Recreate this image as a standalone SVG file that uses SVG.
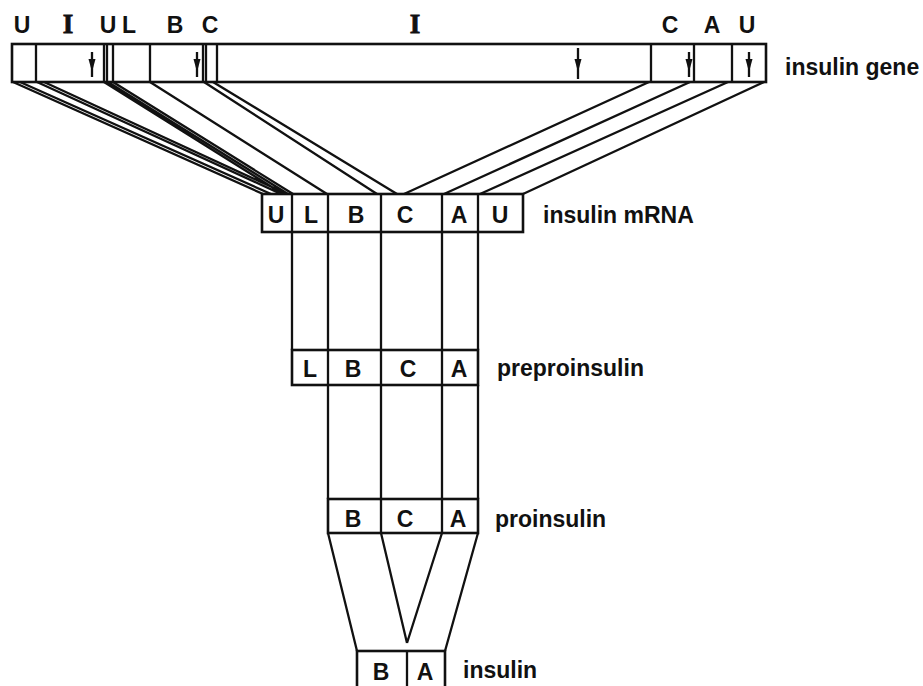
<svg xmlns="http://www.w3.org/2000/svg" width="923" height="686" viewBox="0 0 923 686">
<style>
.box{fill:none;stroke:#111;stroke-width:2.6}
.ln{stroke:#111;stroke-width:2.3;fill:none}
.lb{font-family:"Liberation Sans",Arial,sans-serif;font-weight:bold;font-size:23px;fill:#111;text-anchor:middle}
.lbs{font-family:"Liberation Serif","Times New Roman",serif;font-weight:bold;font-size:27px;fill:#111;text-anchor:middle;stroke:#111;stroke-width:0.8}
.nm{font-family:"Liberation Sans",Arial,sans-serif;font-weight:bold;font-size:23px;fill:#111}
.ar{fill:#111}
</style>
<rect width="923" height="686" fill="#fff"/>

<g id="gene">
<rect class="box" x="12" y="44" width="754" height="38"/>
<path class="ln" d="M36 44V82M104 44V82M107 44V82M113 44V82M150 44V82M203 44V82M206 44V82M217 44V82M651 44V82M694 44V82M732 44V82"/>
<g>
<path class="ln" d="M92 52V77M197 52V77M578 48V79M689 52V77M749 52V77" stroke-width="2"/>
<polygon class="ar" points="88.5,59 95.5,59 92,72"/>
<polygon class="ar" points="193.5,59 200.5,59 197,72"/>
<polygon class="ar" points="574.5,59 581.5,59 578,72"/>
<polygon class="ar" points="685.5,59 692.5,59 689,72"/>
<polygon class="ar" points="745.5,59 752.5,59 749,72"/>
</g>
<text class="lb" x="22" y="33">U</text>
<text class="lbs" x="68" y="33">I</text>
<text class="lb" x="108" y="33">U</text>
<text class="lb" x="129" y="33">L</text>
<text class="lb" x="175" y="33">B</text>
<text class="lb" x="210" y="33">C</text>
<text class="lbs" x="415" y="33">I</text>
<text class="lb" x="670" y="33">C</text>
<text class="lb" x="712" y="33">A</text>
<text class="lb" x="747" y="33">U</text>
<text class="nm" x="785" y="75" font-size="24">insulin gene</text>
</g>

<g id="mrna">
<rect class="box" x="262" y="194" width="261" height="38"/>
<path class="ln" d="M292 194V232M328 194V232M381 194V232M442 194V232M478 194V232"/>
<text class="lb" x="276" y="223">U</text>
<text class="lb" x="311" y="223">L</text>
<text class="lb" x="356" y="223">B</text>
<text class="lb" x="405" y="223">C</text>
<text class="lb" x="459" y="223">A</text>
<text class="lb" x="500" y="223">U</text>
<text class="nm" x="543" y="223">insulin mRNA</text>
</g>

<g id="preproinsulin">
<rect class="box" x="292" y="350" width="186" height="35"/>
<path class="ln" d="M328 350V385M381 350V385M442 350V385"/>
<text class="lb" x="310" y="377">L</text>
<text class="lb" x="353" y="377">B</text>
<text class="lb" x="408" y="377">C</text>
<text class="lb" x="459" y="377">A</text>
<text class="nm" x="497" y="376">preproinsulin</text>
</g>

<g id="proinsulin">
<rect class="box" x="328" y="499" width="150" height="34"/>
<path class="ln" d="M381 499V533M442 499V533"/>
<text class="lb" x="353" y="527">B</text>
<text class="lb" x="405" y="527">C</text>
<text class="lb" x="458" y="527">A</text>
<text class="nm" x="495" y="527">proinsulin</text>
</g>

<g id="insulin">
<rect class="box" x="357" y="651" width="88" height="50"/>
<path class="ln" d="M407 651V686"/>
<text class="lb" x="381" y="680">B</text>
<text class="lb" x="425" y="680">A</text>
<text class="nm" x="463" y="678">insulin</text>
</g>

<g id="connectors">
<path class="ln" d="M13 82L263 194M20 82L271 194M37 82L281 194M44 82L287 194M104 82L283 194M108 82L288 194M113 82L293 194M150 82L327 194M204 82L377 194M213 82L397 194"/>
<path class="ln" d="M649 82L404 194M690 82L444 194M728 82L480 194M764 82L523 194"/>
<path class="ln" d="M292 232V350M328 232V350M381 232V350M442 232V350M478 232V350"/>
<path class="ln" d="M328 385V499M381 385V499M442 385V499M478 385V499"/>
<path class="ln" d="M328 533L357 651M381 533L407 643M442 533L407 643M478 533L445 651"/>
</g>
</svg>
